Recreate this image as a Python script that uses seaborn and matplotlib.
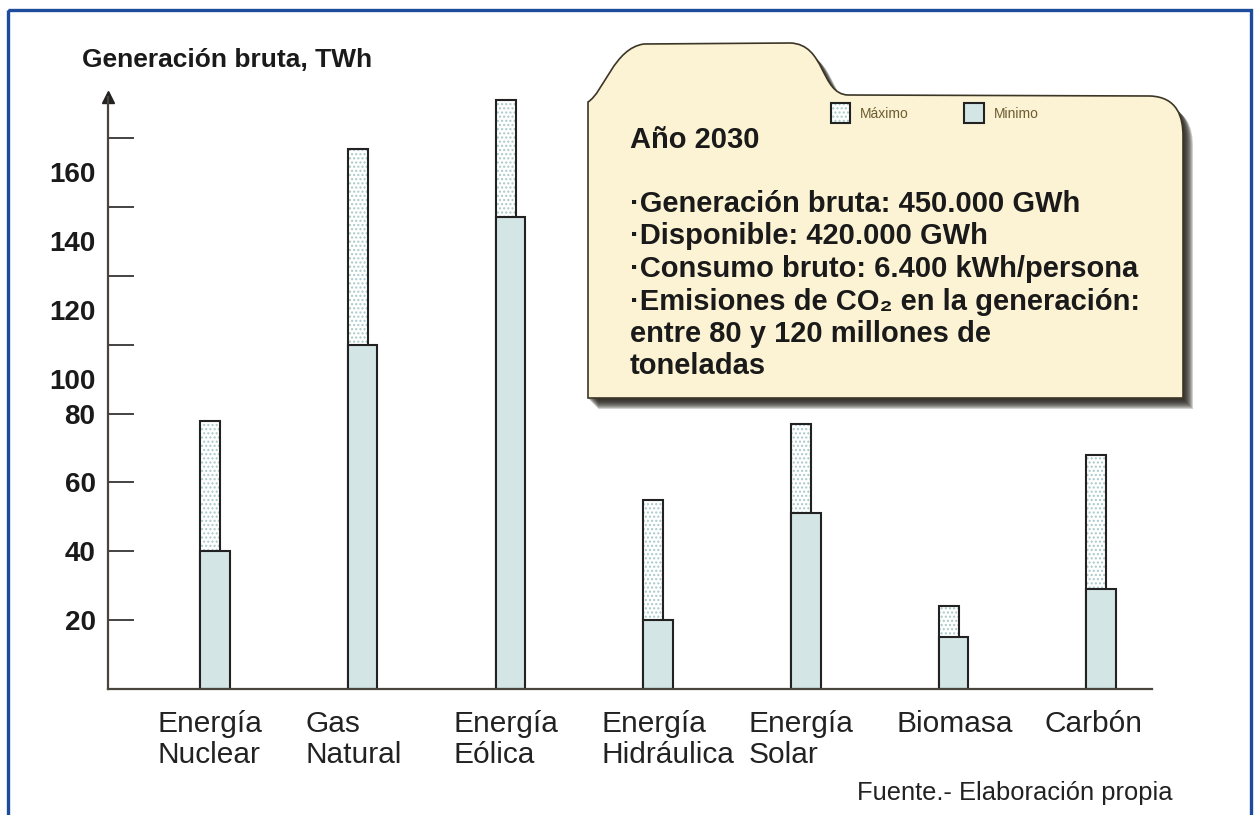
import numpy as np
import pandas as pd
import seaborn as sns
import matplotlib.pyplot as plt
from matplotlib.path import Path
from matplotlib.patches import PathPatch, Rectangle
from matplotlib.transforms import ScaledTranslation

# Valores (TWh)
fuentes = ['Energía\nNuclear', 'Gas\nNatural', 'Energía\nEólica', 'Energía\nHidráulica',
           'Energía\nSolar', 'Biomasa', 'Carbón']
minimo = [40, 100, 137, 20, 51, 15, 29]
maximo = [78, 157, 171, 55, 77, 24, 68]
yticks = [20, 40, 60, 80, 100, 120, 140, 160]

titulo_caja = 'Año 2030'
lineas_caja = ['·Generación bruta: 450.000 GWh',
               '·Disponible: 420.000 GWh',
               '·Consumo bruto: 6.400 kWh/persona',
               '·Emisiones de CO₂ en la generación:',
               'entre 80 y 120 millones de',
               'toneladas']

df = pd.DataFrame({'fuente': fuentes, 'minimo': minimo, 'maximo': maximo})

sns.set_style('white')
plt.rcParams['font.family'] = ['Liberation Sans', 'DejaVu Sans']
plt.rcParams['hatch.linewidth'] = 1.0

W, H = 1258, 815
fig = plt.figure(figsize=(W / 100, H / 100), dpi=100)

# capa en pixeles para marco, titulo, carpeta y fuente
ov = fig.add_axes([0, 0, 1, 1], zorder=0)
ov.set_xlim(0, W)
ov.set_ylim(H, 0)
ov.axis('off')

ax = fig.add_axes([108 / W, (H - 689) / H, (1152 - 108) / W, (689 - 97) / H], zorder=1)
ax.set_facecolor('none')

# barras: maximo (punteado, mas estrecho) y minimo encima
sns.barplot(data=df, x='fuente', y='maximo', width=0.135, color='white', saturation=1,
            edgecolor='#a8c9c9', linewidth=0, hatch='....', errorbar=None, ax=ax)
sns.barplot(data=df, x='fuente', y='maximo', width=0.135, color='#222222', fill=False,
            linewidth=1.5, errorbar=None, ax=ax)
sns.barplot(data=df, x='fuente', y='minimo', width=0.2, color='#d4e5e5', saturation=1,
            edgecolor='#222222', linewidth=1.5, errorbar=None, ax=ax)

# alinear las barras de maximo al borde izquierdo de las de minimo
n = len(fuentes)
pats = ax.patches
for i in range(n):
    left = pats[2 * n + i].get_x()
    pats[i].set_x(left)
    pats[n + i].set_x(left)

ax.set_xlim(-0.724, 6.344)
ax.set_ylim(0, 172)
ax.set_xlabel('')
ax.set_ylabel('')
sns.despine(ax=ax)
for s in ['left', 'bottom']:
    ax.spines[s].set_color('#4a443e')
    ax.spines[s].set_linewidth(1.6)

ax.set_yticks(yticks)
ax.set_yticklabels([str(v) for v in yticks], fontsize=20, fontweight='bold', color='#1a1a1a')
ax.tick_params(axis='y', direction='in', left=True, length=19, width=1.2, color='#222222', pad=9)
shift = ScaledTranslation(0, -0.34, fig.dpi_scale_trans)
for v, lab in zip(yticks, ax.get_yticklabels()):
    if v >= 100:
        lab.set_transform(lab.get_transform() + shift)

ax.set_xticks(range(n))
ax.set_xticklabels(fuentes, fontsize=21.5, ha='left', color='#222222', linespacing=1.13)
ax.tick_params(axis='x', length=0, pad=15)
xshift = ScaledTranslation(-0.57, 0, fig.dpi_scale_trans)
for lab in ax.get_xticklabels():
    lab.set_transform(lab.get_transform() + xshift)

# flecha del eje y
ax.plot(0, 1, marker='^', ms=9, color='#222222', transform=ax.transAxes, clip_on=False)

# marco azul
ov.add_patch(Rectangle((8, 10), 1243, 840, fill=False, edgecolor='#1d4c9c', lw=2.4))

ov.text(82, 67, 'Generación bruta, TWh', fontsize=19, fontweight='bold', color='#1a1a1a',
        va='baseline')
ov.text(857, 800, 'Fuente.- Elaboración propia', fontsize=18.4, color='#222222', va='baseline')

# carpeta con sombra
verts = np.array([(588, 398), (588, 102), (604, 92), (614, 48), (644, 44), (790, 43),
                  (826, 44), (820, 94), (848, 95), (1150, 96), (1178, 97), (1183, 118),
                  (1183, 136), (1183, 398), (588, 398)], dtype=float)
codes = [Path.MOVETO, Path.LINETO, Path.CURVE4, Path.CURVE4, Path.CURVE4, Path.LINETO,
         Path.CURVE4, Path.CURVE4, Path.CURVE4, Path.LINETO, Path.CURVE4, Path.CURVE4,
         Path.CURVE4, Path.LINETO, Path.CLOSEPOLY]
for k in range(10, 0, -1):
    ov.add_patch(PathPatch(Path(verts + [k, k + 1], codes), facecolor='#221e18',
                           edgecolor='none', alpha=0.2))
ov.add_patch(PathPatch(Path(verts, codes), facecolor='#fbf3d4', edgecolor='#3b3626', lw=1.2))

ov.text(630, 148, titulo_caja, fontsize=21, fontweight='bold', color='#1a1a1a', va='baseline')
for k, linea in enumerate(lineas_caja):
    ov.text(630, 212 + 32.5 * k, linea, fontsize=21, fontweight='bold', color='#1a1a1a',
            va='baseline')

ov.legend(handles=[(pats[0], pats[n]), pats[2 * n]], labels=['Máximo', 'Minimo'],
          loc='upper left', bbox_to_anchor=(831 / W, 1 - 103 / H), bbox_transform=fig.transFigure,
          ncol=2, frameon=False, fontsize=10, labelcolor='#6d5d30', handlelength=1.4,
          handleheight=1.85, handletextpad=0.7, columnspacing=4.0, borderpad=0, borderaxespad=0)

fig.savefig('out.png', dpi=100)
